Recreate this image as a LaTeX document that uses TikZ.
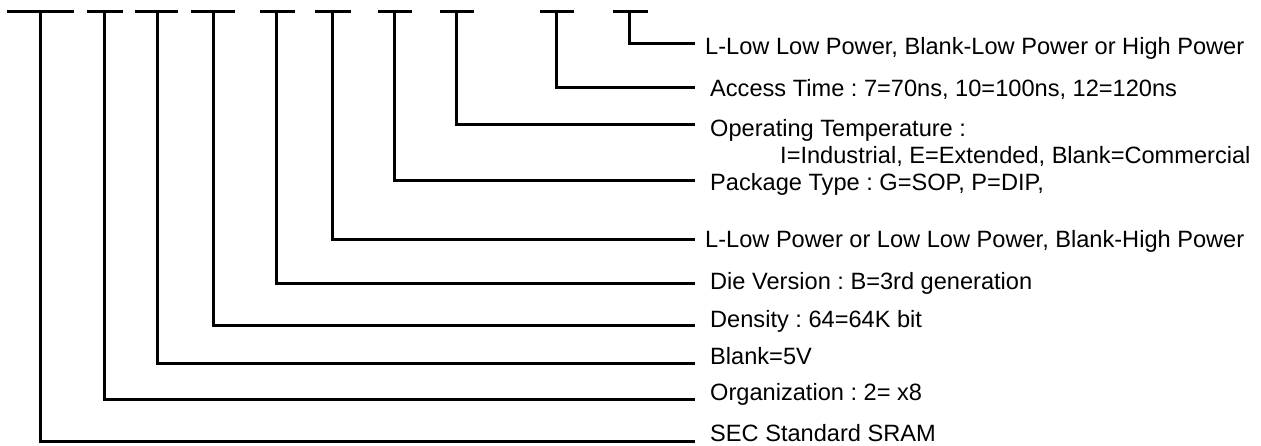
\documentclass[tikz,border=0pt]{standalone}
\usepackage{fontspec}
\setmainfont{Liberation Sans}
\frenchspacing
\begin{document}
\begin{tikzpicture}[x=1pt,y=-1pt,
  rule/.style={line width=3pt},
  lead/.style={line width=3pt, line join=miter},
  lbl/.style={anchor=base west, inner sep=0pt, font=\fontsize{23.6}{28}\selectfont}]
\useasboundingbox (0,0) rectangle (1261,445);

% segment bars of the part number, their stems and leader lines
\foreach \i/\l/\r/\s/\y in {
  1/7/74/40/441,
  2/87/123/104/399,
  3/135/178/157/363,
  4/191/235/213/325,
  5/260/295/276/283,
  6/315/351/332/239,
  7/378/412/394/180,
  8/440/474/456/124,
  9/540/574/556/87,
  10/613/648/629/43}{
  \coordinate (bl\i) at (\l,11);
  \coordinate (br\i) at (\r,11);
  \coordinate (st\i) at (\s,11);
  \coordinate (end\i) at (695,\y);
  \draw[rule] (bl\i) -- (br\i);
  \draw[lead] (st\i) |- (end\i);
}

% field descriptions
\node[lbl] (t1)  at (710,441)   {SEC Standard SRAM};
\node[lbl] (t2)  at (710,400)   {Organization : 2= x8};
\node[lbl] (t3)  at (710,364)   {Blank=5V};
\node[lbl] (t4)  at (710,327)   {Density : 64=64K bit};
\node[lbl] (t5)  at (710,289)   {Die Version : B=3rd generation};
\node[lbl] (t6)  at (705,247)   {L-Low Power or Low Low Power, Blank-High Power};
\node[lbl] (t7)  at (710,190)   {Package Type : G=SOP, P=DIP,};
\node[lbl] (t8)  at (710,136)   {Operating Temperature :};
\node[lbl] (t8b) at (780,163.5) {I=Industrial, E=Extended, Blank=Commercial};
\node[lbl] (t9)  at (710,96.5)  {Access Time : 7=70ns, 10=100ns, 12=120ns};
\node[lbl] (t10) at (705,54.5)  {L-Low Low Power, Blank-Low Power or High Power};
\end{tikzpicture}
\end{document}
